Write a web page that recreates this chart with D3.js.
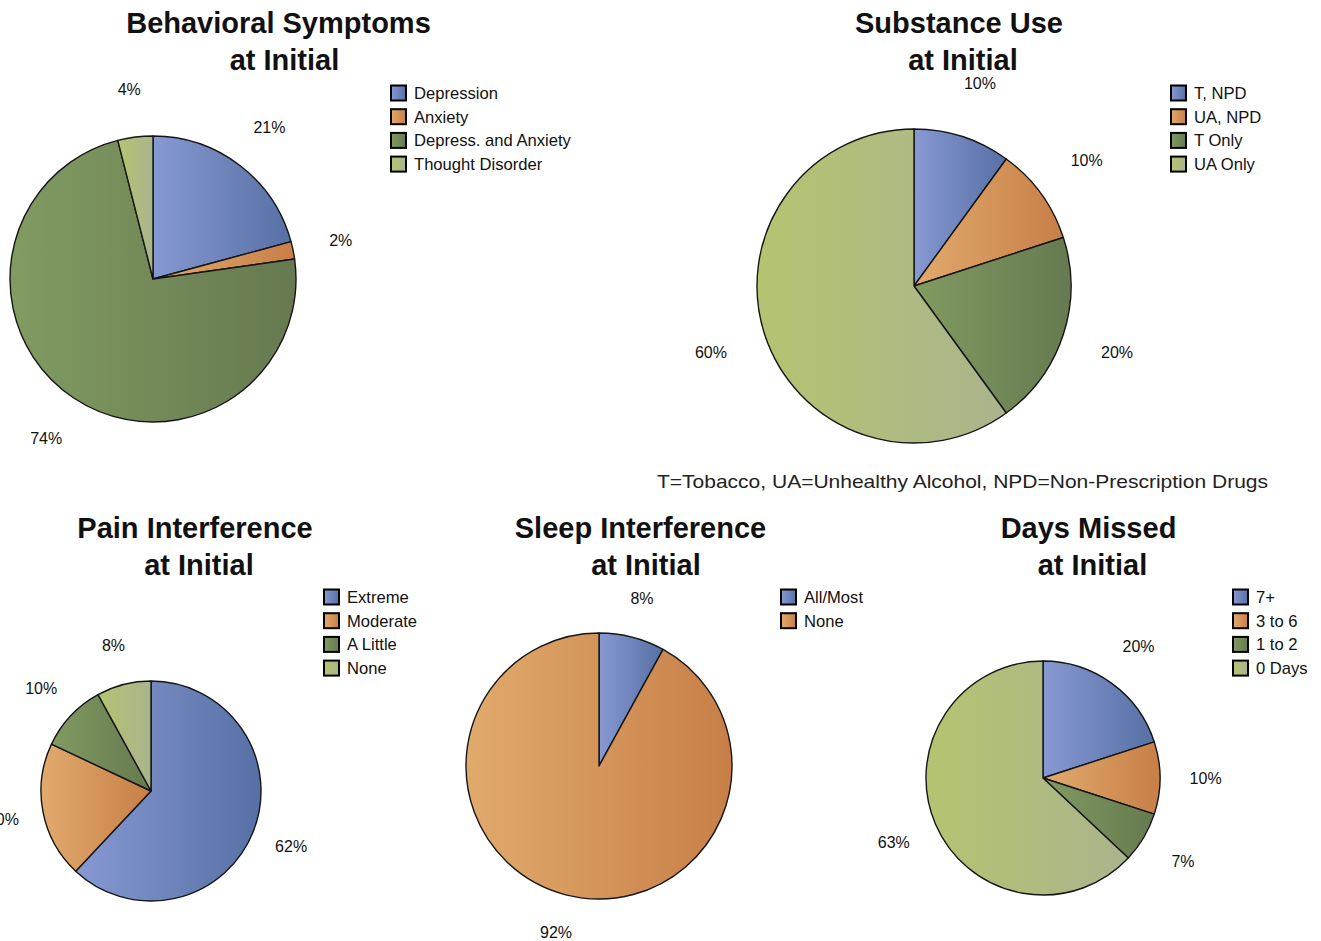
<!DOCTYPE html>
<html>
<head>
<meta charset="utf-8">
<script src="https://cdn.jsdelivr.net/npm/d3@7"></script>
<style>
  html, body { margin: 0; padding: 0; background: #fff; }
  svg { display: block; }
  text { font-family: "Liberation Sans", Arial, Helvetica, sans-serif; fill: #111; }
</style>
</head>
<body>
<svg id="chart" width="1321" height="941"></svg>
<script>
// ---------- DATA ----------
const behavioralCategories = ["Depression", "Anxiety", "Depress. and Anxiety", "Thought Disorder"];
const behavioralValues = [21, 2, 74, 4];

const substanceCategories = ["T, NPD", "UA, NPD", "T Only", "UA Only"];
const substanceValues = [10, 10, 20, 60];

const painCategories = ["Extreme", "Moderate", "A Little", "None"];
const painValues = [62, 20, 10, 8];

const sleepCategories = ["All/Most", "None"];
const sleepValues = [8, 92];

const daysCategories = ["7+", "3 to 6", "1 to 2", "0 Days"];
const daysValues = [20, 10, 7, 63];

const titleLine2 = "at Initial";
const footnote = "T=Tobacco, UA=Unhealthy Alcohol, NPD=Non-Prescription Drugs";

// ---------- STYLE / LAYOUT ----------
const gradStops = [
  ["#8799d2", "#5670a5"],  // blue
  ["#e1aa6d", "#c77f47"],  // orange
  ["#819b61", "#667950"],  // dark green
  ["#b4c470", "#aab48d"]   // light green
];

const charts = [
  { title: "Behavioral Symptoms", cats: behavioralCategories, vals: behavioralValues,
    cx: 153, cy: 279, r: 143, lr: 1.34, t1x: 278.5, t2x: 284.5, ty: 23, lgx: 391, lgy: 93 },
  { title: "Substance Use", cats: substanceCategories, vals: substanceValues,
    cx: 914, cy: 286, r: 157, lr: 1.36, t1x: 959, t2x: 963, ty: 23, lgx: 1171, lgy: 93 },
  { title: "Pain Interference", cats: painCategories, vals: painValues,
    cx: 151, cy: 791, r: 110, lr: 1.37, t1x: 195, t2x: 199, ty: 528, lgx: 324, lgy: 597 },
  { title: "Sleep Interference", cats: sleepCategories, vals: sleepValues,
    cx: 599, cy: 766, r: 133, lr: 1.30, t1x: 640.5, t2x: 646, ty: 528, lgx: 781, lgy: 597 },
  { title: "Days Missed", cats: daysCategories, vals: daysValues,
    cx: 1043, cy: 778, r: 117, lr: 1.39, t1x: 1088.5, t2x: 1092.5, ty: 528, lgx: 1233, lgy: 597 }
];

const svg = d3.select("#chart");
const defs = svg.append("defs");
gradStops.forEach((g, i) => {
  const lg = defs.append("linearGradient")
    .attr("id", "grad" + i)
    .attr("x1", "0%").attr("y1", "0%").attr("x2", "100%").attr("y2", "0%");
  lg.append("stop").attr("offset", "0%").attr("stop-color", g[0]);
  lg.append("stop").attr("offset", "100%").attr("stop-color", g[1]);
});

const pie = d3.pie().sort(null).value(d => d.value);

charts.forEach(c => {
  const data = c.cats.map((name, i) => ({ name, value: c.vals[i], idx: i }));
  const arcs = pie(data);
  const arc = d3.arc().innerRadius(0).outerRadius(c.r);
  const labelArc = d3.arc().innerRadius(c.r * c.lr).outerRadius(c.r * c.lr);

  // titles
  svg.append("text").attr("x", c.t1x).attr("y", c.ty).attr("dy", "0.36em")
    .attr("text-anchor", "middle").style("font-weight", "bold").style("font-size", "29px")
    .text(c.title);
  svg.append("text").attr("x", c.t2x).attr("y", c.ty + 37).attr("dy", "0.36em")
    .attr("text-anchor", "middle").style("font-weight", "bold").style("font-size", "29px")
    .text(titleLine2);

  const g = svg.append("g").attr("transform", `translate(${c.cx},${c.cy})`);
  g.selectAll("path").data(arcs).join("path")
    .attr("d", arc)
    .attr("fill", d => `url(#grad${d.data.idx})`)
    .attr("stroke", "#151515")
    .attr("stroke-width", 1.4)
    .attr("stroke-linejoin", "round");

  g.selectAll("text.pct").data(arcs).join("text")
    .attr("class", "pct")
    .attr("transform", d => {
      const [x, y] = labelArc.centroid(d);
      return `translate(${x},${Math.min(y, 941 - c.cy - 9)})`;
    })
    .attr("text-anchor", "middle").attr("dy", "0.36em")
    .style("font-size", "16px")
    .text(d => d.data.value + "%");

  // legend
  const lg = svg.append("g").attr("transform", `translate(${c.lgx},${c.lgy})`);
  const items = lg.selectAll("g").data(data).join("g")
    .attr("transform", (d, i) => `translate(0,${i * 23.7})`);
  items.append("rect").attr("x", 0).attr("y", -7.5).attr("width", 15).attr("height", 15)
    .attr("fill", d => `url(#grad${d.idx})`).attr("stroke", "#000").attr("stroke-width", 2);
  items.append("text").attr("x", 23).attr("y", 0).attr("dy", "0.35em")
    .style("font-size", "16.6px").text(d => d.name);
});

svg.append("text").attr("x", 657).attr("y", 481).attr("dy", "0.35em")
  .attr("textLength", 611).attr("lengthAdjust", "spacingAndGlyphs")
  .style("font-size", "19px").style("fill", "#222").text(footnote);
</script>
</body>
</html>
